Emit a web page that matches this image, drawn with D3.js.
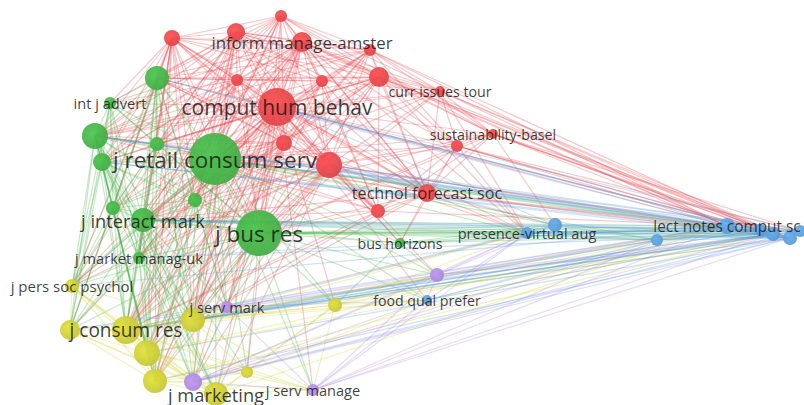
<!DOCTYPE html>
<html><head><meta charset="utf-8">
<script src="https://cdn.jsdelivr.net/npm/d3@7"></script>
<style>html,body{margin:0;padding:0;background:#fff;overflow:hidden}svg{display:block}</style>
</head><body>
<svg id="chart" width="804" height="405"></svg>
<script>
// ---- data: nodes (layout coordinates, weight, cluster, label) ----
const nodeIds = ["R1","R2","R3","R4","R5","R6","R7","R8","R9","R10","R11","R12","R13","R14","R15","R16",
 "G1","G2","G3","G4","G5","G6","G7","G8","G9","G10","G11","G12",
 "Y1","Y2","Y3","Y4","Y5","Y6","Y7","Y8","Y9",
 "P1","P2","P3","P4",
 "B1","B2","B3","B4","B5","B6","B7","B8","B9"];
const layoutX = [172,236,281,302,370,379,322,237,277,284,329,440,457,493,427,378,
 157,110,95,102,157,215,195,113,143,259,139,400,
 72,70,126,147,193,155,216,247,335,
 227,193,313,437,
 427,527,555,657,727,760,773,790,800];
const layoutY = [38,32,16,42,50,77,81,80,107,143,165,91,146,134,193,211,
 78,103,136,162,144,159,200,208,220,233,258,243,
 286,330,330,353,320,381,394,372,305,
 307,382,390,275,
 300,233,225,240,226,230,234,238,231];
const weights = [64,81,36,100,36,100,36,36,361,64,169,25,36,25,81,49,
 144,36,169,81,49,676,49,49,144,529,36,25,
 49,100,196,169,144,144,144,36,49,
 36,81,36,49,
 25,36,49,36,64,36,49,49,36];
const clusters = ["red","red","red","red","red","red","red","red","red","red","red","red","red","red","red","red",
 "green","green","green","green","green","green","green","green","green","green","green","green",
 "yellow","yellow","yellow","yellow","yellow","yellow","yellow","yellow","yellow",
 "purple","purple","purple","purple",
 "blue","blue","blue","blue","blue","blue","blue","blue","blue"];
const labels = {R4:"inform manage-amster",R9:"comput hum behav",R12:"curr issues tour",R14:"sustainability-basel",
 R15:"technol forecast soc",G2:"int j advert",G6:"j retail consum serv",G9:"j interact mark",G10:"j bus res",
 G11:"j market manag-uk",G12:"bus horizons",Y1:"j pers soc psychol",Y3:"j consum res",Y7:"j marketing",
 P1:"j serv mark",P3:"j serv manage",B1:"food qual prefer",B2:"presence-virtual aug",B5:"lect notes comput sc"};
// ---- data: links (adjacency lists) ----
const adjacency = {
 R1:"R2 R3 R4 R5 R6 R7 R8 R9 R10 R11 R15 R16 G1 G2 G3 G4 G5 G6 G7 G8 G9 G10 G11 Y1 Y2 Y3 Y4 Y5 Y6 P1",
 R2:"R3 R4 R5 R6 R7 R8 R9 R10 R11 R12 R13 R15 R16 G1 G2 G3 G4 G5 G6 G7 G8 G9 G10 G11 Y1 Y3 Y4 Y5 Y6 P2",
 R3:"R4 R5 R6 R7 R8 R9 R10 R11 R12 R14 R15 G1 G3 G4 G5 G6 G7 G9 G10 Y3 Y5",
 R4:"R5 R6 R7 R8 R9 R10 R11 R12 R13 R14 R15 R16 G1 G2 G3 G4 G5 G6 G7 G8 G9 G10 G11 Y1 Y3 Y4 Y5 Y6 P1 B2 B5 B7",
 R5:"R6 R7 R8 R9 R10 R11 R12 R13 R14 R15 G1 G3 G6 G9 G10 Y3 B5 B7",
 R6:"R7 R8 R9 R10 R11 R12 R13 R14 R15 R16 G1 G3 G4 G5 G6 G7 G9 G10 Y3 Y5 B2 B5 B7 B8",
 R7:"R8 R9 R10 R11 R12 R15 R16 G1 G3 G6 G9 G10 Y3 Y5",
 R8:"R9 R10 R11 R15 G1 G2 G3 G4 G5 G6 G7 G9 G10 Y3 Y5",
 R9:"R10 R11 R12 R13 R14 R15 R16 G1 G2 G3 G4 G5 G6 G7 G8 G9 G10 G11 G12 Y1 Y2 Y3 Y4 Y5 Y6 Y7 Y8 Y9 P1 P2 P3 P4 B1 B2 B5 B7",
 R10:"R11 R15 R16 G1 G3 G4 G5 G6 G7 G8 G9 G10 G11 Y1 Y3 Y4 Y5 Y6 P1",
 R11:"R12 R13 R14 R15 R16 G1 G3 G4 G6 G7 G9 G10 G11 G12 Y1 Y3 Y4 Y5 Y6 Y7 P1 P2 B2 B5 B7",
 R12:"R13 R14 R15 G3 G6 G9 G10 B2 B5 B7 B8",
 R13:"R14 R15 R16 G6 G10 G12 B2 B5 B7 B8 B9",
 R14:"R15 R16 G6 G9 G10 B3 B5 B6 B7 B8 B9",
 R15:"R16 G1 G3 G6 G9 G10 G12 Y3 Y5 B2 B3 B5 B7 B8",
 R16:"G3 G6 G9 G10 Y3 Y5 B5",
 G1:"G2 G3 G4 G5 G6 G7 G8 G9 G10 G11 Y1 Y2 Y3 Y4 Y5 Y6 P1 P2",
 G2:"G3 G4 G5 G6 G8 G9 G10 G11 Y1 Y2 Y3",
 G3:"G4 G5 G6 G7 G8 G9 G10 G11 Y1 Y2 Y3 Y4 Y5 Y6 Y7 P1 P2",
 G4:"G5 G6 G7 G8 G9 G10 G11 Y1 Y2 Y3 Y4 Y5 Y6 Y7",
 G5:"G6 G7 G8 G9 G10 G11 Y1 Y3 Y5",
 G6:"G7 G8 G9 G10 G11 G12 Y1 Y2 Y3 Y4 Y5 Y6 Y7 Y8 Y9 P1 P2 P3 P4 B1 B2 B3 B4 B5 B7 B8",
 G7:"G8 G9 G10 G11 Y3 Y4 Y5 Y6 P1",
 G8:"G9 G10 G11 Y1 Y2 Y3 Y4 Y6",
 G9:"G10 G11 G12 Y1 Y2 Y3 Y4 Y5 Y6 Y7 Y8 P1 P2 B2 B5 B7",
 G10:"G11 G12 Y1 Y2 Y3 Y4 Y5 Y6 Y7 Y8 Y9 P1 P2 P3 P4 B1 B2 B3 B4 B5 B6 B7 B8 B9",
 G11:"Y1 Y2 Y3 Y4 Y5 Y6 Y7 P2",
 G12:"B2 B3 B5 B7 P4 Y9",
 Y1:"Y2 Y3 Y4 Y5 Y6 Y7 P2",
 Y2:"Y3 Y4 Y5 Y6 Y7 P2",
 Y3:"Y4 Y5 Y6 Y7 Y8 Y9 P1 P2 P3 P4 B1 B2 B5 B7 B8",
 Y4:"Y5 Y6 Y7 Y8 P1 P2 P3 B5 B7",
 Y5:"Y6 Y7 Y8 Y9 P1 P2 P3 P4 B1 B2 B5",
 Y6:"Y7 Y8 P2 P3 B5 B7",
 Y7:"Y8 Y9 P2 P3 B5",
 Y8:"Y9 P2 P3 B1",
 Y9:"P3 P4 B1 B2 B5 B7",
 P1:"P2 P3 P4 B1 B2 B5 B7",
 P2:"P3 P4 B1 B2 B4 B5 B7 B8",
 P3:"P4 B1 B2 B4 B5 B7 B8",
 P4:"B1 B2 B3 B4 B5 B7 B8",
 B1:"B2 B4 B5 B7",
 B2:"B3 B4 B5 B6 B7 B8 B9",
 B3:"B4 B5 B6 B7 B8 G9 Y3 R9 R11",
 B4:"B5 B6 B7 B8 B9 Y3 Y5 G9",
 B5:"B6 B7 B8 B9 G1 G3 G4 G9 Y1 Y2 Y5 Y6 G11 Y4",
 B6:"B7 B8 B9 G3 G9 Y3 Y5 R9 R11 G6 G10",
 B7:"B8 B9 G1 G3 G4 Y2 Y4 Y6 G11 G9 Y3 Y5",
 B8:"B9 G3 G9 Y3 Y5 G4 Y6 Y4 R9",
 B9:"G6 G9 G10 R9 Y3 Y5 G3 P2 R11"
};
const clusterNames = ["red","green","yellow","purple","blue"];
const clusterColors = ["#e8474b","#43b446","#cfcf35","#b08be3","#5b9fdc"];

// ---- build ----
const nodes = nodeIds.map((id,i)=>({id, x:layoutX[i], y:layoutY[i], w:weights[i], c:clusters[i], label:labels[id]||null}));
const byId = new Map(nodes.map(n=>[n.id,n]));
const links = [];
const seen = new Set();
Object.entries(adjacency).forEach(([s,list])=>{
  list.split(/\s+/).forEach(t=>{
    const key = [s,t].sort().join("|");
    if(seen.has(key)) return; seen.add(key);
    links.push({source:byId.get(s), target:byId.get(t)});
  });
});

const svg = d3.select("#chart");
const W = 804, H = 405;
const x = d3.scaleLinear().domain([0,804]).range([0,W]);
const y = d3.scaleLinear().domain([0,405]).range([0,H]);
const r = d3.scaleSqrt().domain([0,676]).range([0,26]);
const fontSize = d3.scaleLinear().domain([5,8,12,23]).range([14.2,15.4,18.3,22.5]).clamp(true);
const color = d3.scaleOrdinal().domain(clusterNames).range(clusterColors);

const defs = svg.append("defs");
clusterNames.forEach((c,i)=>{
  const g = defs.append("radialGradient").attr("id","grad-"+c).attr("cx","40%").attr("cy","40%").attr("r","65%");
  g.append("stop").attr("offset","0%").attr("stop-color",d3.color(clusterColors[i]).brighter(0.25));
  g.append("stop").attr("offset","100%").attr("stop-color",d3.color(clusterColors[i]).darker(0.15));
});

svg.append("g").selectAll("line").data(links).join("line")
  .attr("x1",d=>x(d.source.x)).attr("y1",d=>y(d.source.y))
  .attr("x2",d=>x(d.target.x)).attr("y2",d=>y(d.target.y))
  .attr("stroke",d=>color(d.source.c))
  .attr("stroke-opacity",0.3)
  .attr("stroke-width",1.2);

svg.append("g").selectAll("circle").data(nodes).join("circle")
  .attr("cx",d=>x(d.x)).attr("cy",d=>y(d.y)).attr("r",d=>r(d.w))
  .attr("fill",d=>"url(#grad-"+d.c+")")
  .attr("fill-opacity",0.92);

svg.append("g").selectAll("text").data(nodes.filter(d=>d.label)).join("text")
  .attr("x",d=>x(d.x)).attr("y",d=>y(d.y))
  .attr("text-anchor","middle").attr("dominant-baseline","central")
  .attr("font-family","'Open Sans', sans-serif")
  .attr("font-size",d=>fontSize(r(d.w))+"px")
  .attr("fill","#1a1a1a").attr("fill-opacity",0.85)
  .text(d=>d.label);
</script>
</body></html>
